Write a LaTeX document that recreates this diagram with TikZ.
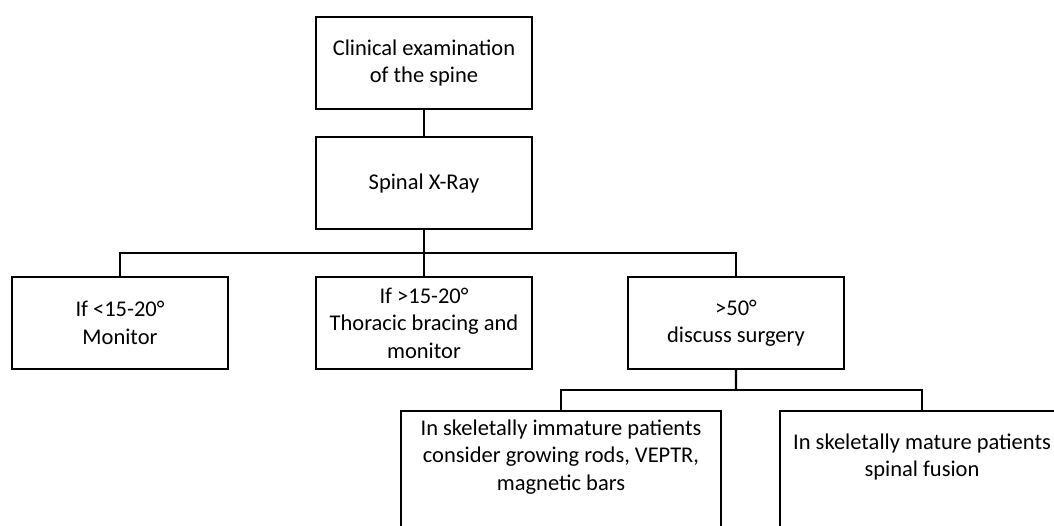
\documentclass[tikz,border=0pt]{standalone}
\usepackage{fontspec}
\setmainfont{Carlito}
\usetikzlibrary{calc}
\tikzstyle{block} = [draw, line width=1pt, align=center, minimum width=5.4cm, minimum height=2.3cm, font=\fontsize{16}{19.5}\selectfont]
\tikzstyle{wide} = [block, minimum height=2.9cm]
\tikzstyle{link} = [line width=1.6pt]
% extra depth so the text sits a little high in the bottom boxes
\newcommand{\lowpad}{\rule[-0.7cm]{0pt}{0pt}}

\begin{document}
\begin{tikzpicture}[node distance=3cm]
    \useasboundingbox (-10.6,1.575) rectangle (15.75,-11.55);
    \node (exam) [block] {Clinical examination\\of the spine};
    \node (xray) [block, below of=exam] {Spinal X-Ray};
    \node (bracing) [block, below of=xray, yshift=-.5cm] {If >15-20\textdegree\\Thoracic bracing and\\monitor};
    \node (monitor) [block, left of=bracing, xshift=-4.6cm] {If <15-20\textdegree\\Monitor};
    \node (surgery) [block, right of=bracing, xshift=4.8cm] {>50\textdegree\\discuss surgery};
    \node (immature) [wide, minimum width=8cm, below of=surgery, xshift=-4.375cm, yshift=-.65cm] {In skeletally immature patients\\consider growing rods, VEPTR,\\magnetic bars\lowpad};
    \node (mature) [wide, minimum width=7.1cm, below of=surgery, xshift=4.65cm, yshift=-.65cm] {In skeletally mature patients\\spinal fusion\lowpad};
    \coordinate (split) at ($(xray.south)!.5!(bracing.north)$);
    \coordinate (fork) at ($(surgery.south)!.5!(surgery.south |- immature.north)$);
    \draw [link] (exam) -- (xray);
    \draw [link] (xray) -- (split) -- (bracing);
    \draw [link] (monitor) |- (split) -| (surgery);
    \draw [link] (surgery) -- (fork);
    \draw [link] (immature) |- (fork) -| (mature);
\end{tikzpicture}
\end{document}
